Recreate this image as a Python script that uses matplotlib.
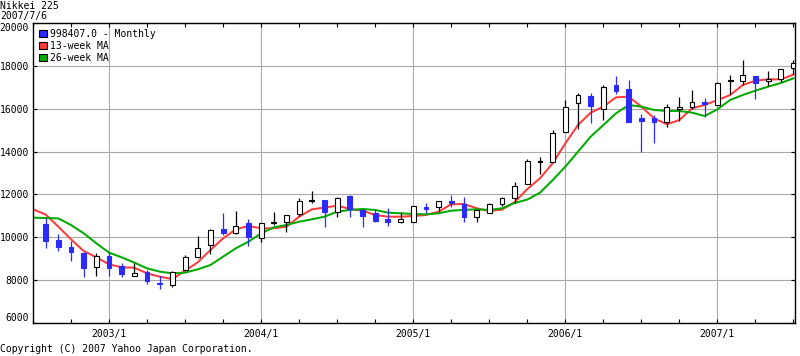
import numpy as np
import matplotlib.pyplot as plt
from matplotlib.patches import Patch

plt.rcParams['font.family'] = 'DejaVu Sans Mono'
plt.rcParams['font.size'] = 7

# monthly candles, Jul 2002 .. Jun 2007 (drawn at the start of the following month)
opens = [10620, 9873, 9547, 9283, 8598, 9142,
         8660, 8209, 8396, 7867, 7759, 8473, 9064, 9625, 10371, 10185, 10652, 9951,
         10682, 10728, 11071, 11700, 11740, 11165, 11942, 11275, 11118, 10853, 10698, 10728,
         11399, 11399, 11694, 11555, 10932, 11150, 11540, 11850, 12487, 13530, 13530, 14898,
         16251, 16594, 15972, 17107, 16921, 15551, 15582, 15365, 15987, 16097, 16300, 16174,
         17280, 17309, 17527, 17309, 17371, 17916]
highs = [10900, 10153, 9843, 9300, 9251, 9330,
         8785, 8816, 8473, 8209, 8427, 9158, 10060, 10371, 11149, 11227, 10839, 10652,
         11165, 11040, 11818, 12176, 11740, 11896, 11973, 11275, 11306, 11383, 11196, 11460,
         11586, 11710, 11973, 11896, 11275, 11586, 11896, 12565, 13653, 13730, 15000, 16407,
         16749, 16718, 17107, 17527, 17340, 15753, 15707, 16220, 16531, 16873, 16484, 17262,
         17573, 18273, 17527, 17760, 17838, 18273]
lows = [9516, 9376, 8909, 8162, 8209, 8209,
        8162, 8209, 7805, 7572, 7696, 8473, 9018, 9220, 10107, 10153, 9594, 9796,
        10573, 10263, 11010, 11586, 10466, 10932, 10962, 10497, 10698, 10543, 10651, 10698,
        11150, 11196, 11430, 10728, 10728, 11120, 11460, 11586, 12487, 12938, 13530, 14898,
        15038, 15349, 15473, 16687, 15396, 14000, 14385, 15132, 15442, 15972, 15598, 16143,
        16700, 17107, 16454, 17045, 17250, 17620]
closes = [9843, 9563, 9330, 8582, 9142, 8551,
          8287, 8318, 7960, 7805, 8365, 9080, 9516, 10340, 10185, 10512, 10029, 10652,
          10728, 11040, 11694, 11730, 11196, 11818, 11306, 11010, 10776, 10728, 10838, 11460,
          11337, 11710, 11586, 10962, 11275, 11555, 11850, 12394, 13560, 13577, 14852, 16066,
          16640, 16143, 16998, 16843, 15396, 15442, 15396, 16097, 16097, 16329, 16220, 17185,
          17330, 17573, 17216, 17371, 17838, 18149]

# moving averages read at each month start, 2002/7 .. 2007/7
ma13 = [11306, 11060, 10496, 9905, 9360, 9064, 8738, 8598, 8580, 8318, 8162, 8053,
        8442, 8832, 9407, 9951, 10371, 10527, 10418, 10418, 10496, 10962, 11306, 11383,
        11476, 11320, 11243, 11040, 10962, 10962, 10993, 11040, 11196, 11540, 11555, 11352,
        11227, 11290, 11640, 12250, 12753, 13452, 14385, 15240, 15816, 16097, 16531, 16562,
        16097, 15551, 15271, 15473, 16019, 16180, 16400, 16640, 17107, 17309, 17371, 17371,
        17590]
ma26 = [10916, 10900, 10880, 10573, 10185, 9718, 9283, 9064, 8816, 8551, 8396, 8318,
        8349, 8505, 8707, 9096, 9485, 9796, 10180, 10465, 10573, 10728, 10838, 10962,
        11196, 11275, 11320, 11275, 11150, 11118, 11087, 11071, 11118, 11243, 11275, 11306,
        11275, 11352, 11600, 11760, 12082, 12669, 13296, 13996, 14696, 15240, 15785, 16174,
        16097, 15940, 15894, 15894, 15816, 15660, 15972, 16407, 16640, 16843, 17030, 17200,
        17418]

year_labels = ['2003/1', '2004/1', '2005/1', '2006/1', '2007/1']

# x axis = months since 2002/1/1
pos = np.arange(7, 7 + len(opens))
ma_pos = np.arange(6, 6 + len(ma13))

blue = '#2b2bff'

fig = plt.figure(figsize=(8, 3.56), dpi=100)
ax = fig.add_axes([33 / 800, 33 / 356, 762 / 800, 300 / 356])

ax.plot(ma_pos, ma13, color='#ff3b3b', lw=1.45, zorder=2)
ax.plot(ma_pos, ma26, color='#00aa00', lw=1.45, zorder=2)

o = np.array(opens)
c = np.array(closes)
up = c >= o
wick_col = ['black' if u else blue for u in up]
ax.vlines(pos, lows, highs, colors=wick_col, lw=0.9, zorder=3)
ax.bar(pos[up], (c - o)[up], bottom=o[up], width=0.38, color='white',
       edgecolor='black', lw=0.8, zorder=4)
ax.bar(pos[~up], (o - c)[~up], bottom=c[~up], width=0.38, color=blue,
       edgecolor=blue, lw=0.8, zorder=4)

ax.set_xlim(6, 66.12)
ax.set_ylim(6000, 20000)
ax.set_xticks([12, 24, 36, 48, 60])
ax.set_xticklabels(year_labels)
ax.set_xticks([m for m in range(6, 67, 3) if m % 12 != 0], minor=True)
ax.set_yticks(range(6000, 20001, 2000))
ylabs = ax.get_yticklabels()
ylabs[0].set_va('bottom')
ylabs[-1].set_va('top')
ax.tick_params(which='both', direction='in', top=True, right=True, length=3, width=0.8)
ax.tick_params(axis='x', pad=4.5)
ax.tick_params(axis='y', pad=3)
ax.grid(True, which='major', color='#aaaaaa', lw=0.8)
ax.set_axisbelow(True)
for s in ax.spines.values():
    s.set_linewidth(1.0)

handles = [Patch(facecolor=blue, edgecolor='black', lw=0.8),
           Patch(facecolor='#ff3b3b', edgecolor='black', lw=0.8),
           Patch(facecolor='#00aa00', edgecolor='black', lw=0.8)]
ax.legend(handles, ['998407.0 - Monthly', '13-week MA', '26-week MA'],
          loc='upper left', frameon=False, handlelength=0.8, handleheight=0.8,
          handletextpad=0.35, labelspacing=0.2, borderaxespad=0.3, borderpad=0.3)

fig.text(0.0, 1 - 1 / 356, 'Nikkei 225', va='top', ha='left')
fig.text(0.0, 1 - 11 / 356, '2007/7/6', va='top', ha='left')
fig.text(0.0, 1 - 344 / 356, 'Copyright (C) 2007 Yahoo Japan Corporation.', va='top', ha='left')

fig.savefig('out.png', dpi=100)
